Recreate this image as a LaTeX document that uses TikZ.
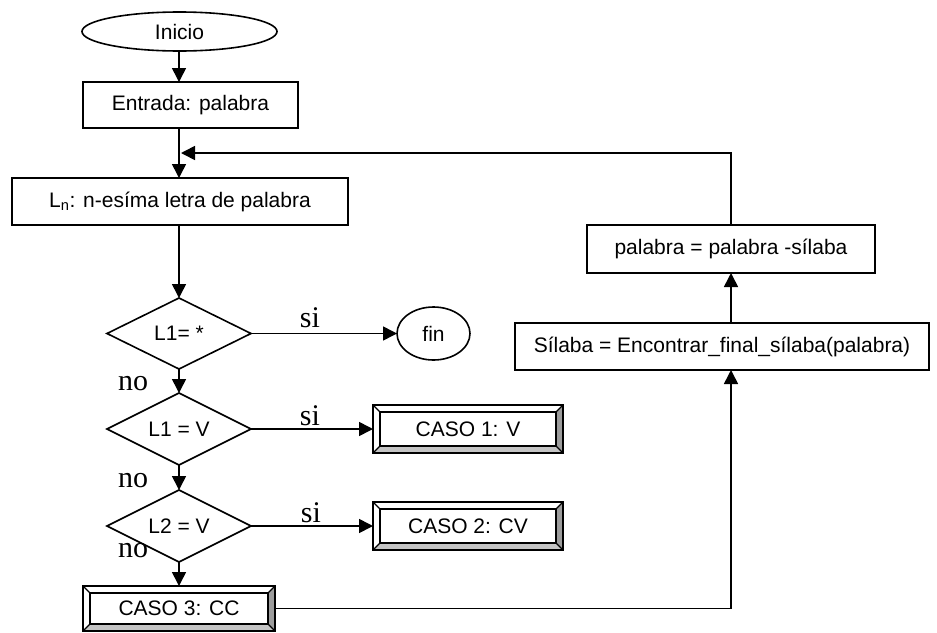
\documentclass[tikz,border=0pt]{standalone}
\usepackage{fontspec}
\setmainfont{Liberation Sans}
\newfontfamily\labelserif{Liberation Serif}
\usetikzlibrary{shapes.geometric,arrows.meta,calc}

\definecolor{bevelright}{HTML}{9C9C9C}
\definecolor{bevelbottom}{HTML}{C4C4C4}

% Bevelled frame drawn over a rectangular node: shaded right and bottom
% faces, inner rectangle and corner mitres.
\newcommand{\bevelbox}[1]{%
  \fill[bevelright] (#1.north east) -- (#1.south east)
    -- ([shift={(-7,-7)}]#1.south east) -- ([shift={(-7,7)}]#1.north east) -- cycle;
  \fill[bevelbottom] (#1.south west) -- (#1.south east)
    -- ([shift={(-7,-7)}]#1.south east) -- ([shift={(7,-7)}]#1.south west) -- cycle;
  \draw[line width=1.3pt] ([shift={(7,7)}]#1.north west) rectangle ([shift={(-7,-7)}]#1.south east);
  \draw[line width=1.1pt] (#1.north west) -- ++(7,7)
                          (#1.north east) -- ++(-7,7)
                          (#1.south west) -- ++(7,-7)
                          (#1.south east) -- ++(-7,-7);
  \draw[line width=2pt] (#1.north west) rectangle (#1.south east);
}

\begin{document}
\begin{tikzpicture}[x=1pt,y=-1pt,
  line width=1.6pt,
  every node/.style={inner sep=0pt, outer sep=0pt, font=\fontsize{21}{25}\selectfont},
  procbox/.style={draw, rectangle},
  termnode/.style={draw, ellipse},
  decision/.style={draw, diamond},
  casebox/.style={draw, rectangle, line width=2pt},
  answer/.style={font=\labelserif\fontsize{30}{34}\selectfont, anchor=base},
  flow/.style={-{Triangle[length=14pt,width=14pt]}},
]
\useasboundingbox (0,0) rectangle (937,632);
\coordinate (spine) at (179,0);

% main column
\node[termnode, minimum width=195, minimum height=39] (inicio) at (179.5,31.5) {Inicio};
\node[procbox, minimum width=215, minimum height=46] (entrada) at (190.5,105) {Entrada: palabra};
\node[procbox, minimum width=336, minimum height=47] (ln) at (180,201.5) {L\textsubscript{n}: n-esíma letra de palabra};

\node[decision, minimum width=144, minimum height=71] (d1) at (179,333.5) {\makebox[0pt]{L1= *}};
\node[decision, minimum width=144, minimum height=72] (d2) at (179,429) {\makebox[0pt]{L1 = V}};
\node[decision, minimum width=144, minimum height=72] (d3) at (179,526) {\makebox[0pt]{L2 = V}};

\node[termnode, minimum width=73, minimum height=53] (fin) at (433.5,333.5) {fin};

% outcome boxes
\node[casebox, minimum width=190, minimum height=48] (caso1) at (468,429) {CASO 1: V};
\node[casebox, minimum width=190, minimum height=48] (caso2) at (468,526) {CASO 2: CV};
\node[casebox, minimum width=192, minimum height=45] (caso3) at (179,608.5) {CASO 3: CC};
\bevelbox{caso1}
\bevelbox{caso2}
\bevelbox{caso3}

% right column
\node[procbox, minimum width=414, minimum height=47] (silaba) at (722,346.5) {Sílaba = Encontrar\_final\_sílaba(palabra)};
\node[procbox, minimum width=288, minimum height=48] (palabra) at (731,249) {palabra = palabra -sílaba};
\coordinate (loop) at (731,153);

% branch labels
\node[answer] (si1) at (310,327) {si};
\node[answer] (si2) at (310,425) {si};
\node[answer] (si3) at (311,522) {si};
\node[answer] (no1) at (133,390) {no};
\node[answer] (no2) at (133,487) {no};
\node[answer] (no3) at (133,557) {no};

% connectors
\draw[flow] (inicio.south -| spine) -- (entrada.north -| spine);
\draw[flow] (entrada.south -| spine) -- (ln.north -| spine);
\draw[flow] (ln.south -| spine) -- (d1.north);
\draw[flow] (d1.east) -- (fin.west);
\draw[flow] (d1.south) -- (d2.north);
\draw[flow] (d2.east) -- (d2.east -| caso1.west);
\draw[flow] (d2.south) -- (d3.north);
\draw[flow] (d3.east) -- (d3.east -| caso2.west);
\draw[flow] (d3.south) -- (caso3.north -| spine);
\draw[flow] (caso3.east) -| (silaba.south -| palabra);
\draw[flow] (silaba.north -| palabra) -- (palabra.south);
\draw[flow] (palabra.north) -- (loop) -- ([xshift=2pt]loop -| spine);
\end{tikzpicture}
\end{document}
